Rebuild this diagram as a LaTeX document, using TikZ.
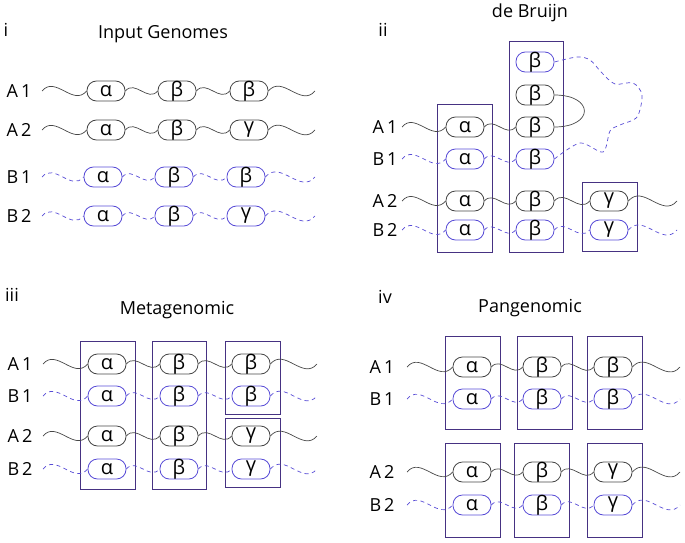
\documentclass[tikz,border=0pt]{standalone}
\usepackage{fontspec}
\setmainfont{Open Sans}
\definecolor{gblue}{RGB}{88,76,214}
\definecolor{boxpurple}{RGB}{70,50,130}
\definecolor{gline}{RGB}{70,70,70}
\tikzset{ g/.style = { draw = gline
                     , line width     = 0.8pt
                     , rounded corners = 9.5pt
                     , minimum width  = 38pt
                     , minimum height = 20pt
                     , inner sep      = 0pt
                     , font = \fontsize{20}{20}\selectfont
                     },
          bg/.style = { g
                      , draw = gblue
                      },
          aw/.style = { draw = gline
                      , line width = 0.7pt
                      , out = 50, in = -130, looseness = 1.2
                      },
          bw/.style = { aw
                      , draw = gblue
                      , dash pattern = on 4pt off 3.5pt
                      },
          grp/.style = { draw = boxpurple
                       , line width = 0.9pt
                       },
          lbl/.style = { font = \fontsize{18}{18}\selectfont },
          ttl/.style = { font = \fontsize{18}{18}\selectfont }
        }

\begin{document}
\begin{tikzpicture}[x=1pt,y=1pt]
\useasboundingbox (0,0) rectangle (685,-543);

% i : input genomes
\node[ttl] (n1) at (6,-30) {i};
\node[ttl] (t1) at (163,-34) {Input Genomes};
\foreach \r/\t/\y/\s/\w/\d/\c in {A1/{A\,1}/-91/g/aw/0/β, A2/{A\,2}/-130/g/aw/0/γ,
                                   B1/{B\,1}/-177/bg/bw/-3/β, B2/{B\,2}/-216/bg/bw/-3/γ}{
    \node[lbl] (i\r) at (19,\y) {\t};
    \coordinate (i\r-s) at (42,\y);
    \coordinate (i\r-e) at (315,\y);
    \node[\s] (i\r-a) at (106+\d,\y) {α};
    \node[\s] (i\r-b) at (177+\d,\y) {β};
    \node[\s] (i\r-c) at (249+\d,\y) {\c};
    \draw[\w] (i\r-s) to (i\r-a.west) (i\r-a.east) to (i\r-b.west)
              (i\r-b.east) to (i\r-c.west) (i\r-c.east) to (i\r-e);
}

% ii : de Bruijn
\node[ttl] (n2) at (383,-30) {ii};
\node[ttl] (t2) at (530,-13) {de Bruijn};
\draw[grp] (437,-104) rectangle (492,-252);
\draw[grp] (509,-41) rectangle (563,-252);
\draw[grp] (582,-182) rectangle (637,-251);
\node[bg] (ii-top) at (535,-62) {β};
\node[g]  (ii-mid) at (535,-95) {β};
\foreach \r/\t/\y/\s/\w in {A1/{A\,1}/-127/g/aw, B1/{B\,1}/-159/bg/bw}{
    \node[lbl] (ii\r) at (385,\y) {\t};
    \coordinate (ii\r-s) at (402,\y);
    \node[\s] (ii\r-a) at (465,\y) {α};
    \node[\s] (ii\r-b) at (535,\y) {β};
    \draw[\w] (ii\r-s) to (ii\r-a.west) (ii\r-a.east) to (ii\r-b.west);
}
\foreach \r/\t/\y/\s/\w in {A2/{A\,2}/-201/g/aw, B2/{B\,2}/-230/bg/bw}{
    \node[lbl] (ii\r) at (385,\y) {\t};
    \coordinate (ii\r-s) at (402,\y);
    \coordinate (ii\r-e) at (677,\y);
    \node[\s] (ii\r-a) at (465,\y) {α};
    \node[\s] (ii\r-b) at (535,\y) {β};
    \node[\s] (ii\r-c) at (609,\y) {γ};
    \draw[\w] (ii\r-s) to (ii\r-a.west) (ii\r-a.east) to (ii\r-b.west)
              (ii\r-b.east) to (ii\r-c.west) (ii\r-c.east) to (ii\r-e);
}
\draw[draw=gline, line width=0.7pt] (iiA1-b.east) .. controls +(40,0) and +(40,0) .. (ii-mid.east);
\draw[draw=gblue, line width=0.7pt, dash pattern=on 4pt off 3.5pt]
    plot[smooth] coordinates {(iiB1-b.east) (580,-143) (603,-152) (610,-131) (620,-125)
        (637,-117) (642,-95) (633,-83) (615,-84) (602,-73) (590,-60) (577,-57) (ii-top.east)};

% iii : metagenomic
\node[ttl] (n3) at (12,-295) {iii};
\node[ttl] (t3) at (177,-310) {Metagenomic};
\draw[grp] (80,-341) rectangle (135,-489);
\draw[grp] (152,-341) rectangle (206,-489);
\draw[grp] (225,-341) rectangle (280,-414);
\draw[grp] (225,-418) rectangle (280,-487);
\foreach \r/\t/\y/\s/\w/\c in {A1/{A\,1}/-364/g/aw/β, B1/{B\,1}/-396/bg/bw/β,
                                A2/{A\,2}/-436/g/aw/γ, B2/{B\,2}/-469/bg/bw/γ}{
    \node[lbl] (iii\r) at (20,\y) {\t};
    \coordinate (iii\r-s) at (43,\y);
    \coordinate (iii\r-e) at (317,\y);
    \node[\s] (iii\r-a) at (107,\y) {α};
    \node[\s] (iii\r-b) at (179,\y) {β};
    \node[\s] (iii\r-c) at (251,\y) {\c};
    \draw[\w] (iii\r-s) to (iii\r-a.west) (iii\r-a.east) to (iii\r-b.west)
              (iii\r-b.east) to (iii\r-c.west) (iii\r-c.east) to (iii\r-e);
}

% iv : pangenomic
\node[ttl] (n4) at (385,-297) {iv};
\node[ttl] (t4) at (530,-308) {Pangenomic};
\draw[grp] (445,-336) rectangle (500,-429);
\draw[grp] (517,-336) rectangle (572,-429);
\draw[grp] (587,-336) rectangle (642,-429);
\draw[grp] (445,-443) rectangle (500,-537);
\draw[grp] (514,-443) rectangle (569,-537);
\draw[grp] (587,-443) rectangle (642,-537);
\foreach \r/\t/\y/\s/\w/\c in {A1/{A\,1}/-367/g/aw/β, B1/{B\,1}/-399/bg/bw/β,
                                A2/{A\,2}/-472/g/aw/γ, B2/{B\,2}/-505/bg/bw/γ}{
    \node[lbl] (iv\r) at (382,\y) {\t};
    \coordinate (iv\r-s) at (407,\y);
    \coordinate (iv\r-e) at (680,\y);
    \node[\s] (iv\r-a) at (472,\y) {α};
    \node[\s] (iv\r-b) at (542,\y) {β};
    \node[\s] (iv\r-c) at (613,\y) {\c};
    \draw[\w] (iv\r-s) to (iv\r-a.west) (iv\r-a.east) to (iv\r-b.west)
              (iv\r-b.east) to (iv\r-c.west) (iv\r-c.east) to (iv\r-e);
}
\end{tikzpicture}
\end{document}
